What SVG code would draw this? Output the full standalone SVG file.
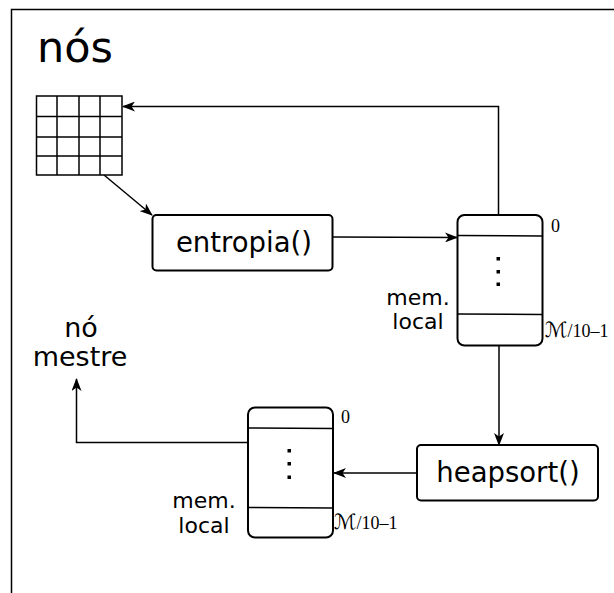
<svg xmlns="http://www.w3.org/2000/svg" width="614" height="593" viewBox="0 0 614 593">
  <style>
    .frame { fill: none; stroke: #000; stroke-width: 1.5; }
    .box { fill: #fff; stroke: #000; stroke-width: 2; }
    .cell { fill: #fff; stroke: #000; stroke-width: 1.5; }
    .div { stroke: #000; stroke-width: 1.5; }
    .wire { fill: none; stroke: #000; stroke-width: 1.5; }
    .sans { font-family: "DejaVu Sans", sans-serif; fill: #000; }
    .serif { font-family: "Liberation Serif", "DejaVu Serif", serif; fill: #000; }
    .cal { font-family: "DejaVu Serif", "DejaVu Sans", serif; font-style: italic; font-size: 21px; }
    .dot { fill: #000; }
  </style>
  <defs>
    <marker id="arrow" viewBox="0 0 13 10" refX="12" refY="5" markerWidth="13" markerHeight="10" markerUnits="userSpaceOnUse" orient="auto">
      <path d="M0,0 L13,5 L0,10 L3.5,5 z" fill="#000"/>
    </marker>
  </defs>

  <rect width="614" height="593" fill="#fff"/>

  <!-- outer frame of the node group -->
  <rect class="frame" x="11.5" y="9.5" width="800" height="800"/>
  <text class="sans" x="37" y="62" font-size="43">nós</text>

  <!-- connectors -->
  <g id="connectors">
    <line class="wire" x1="104" y1="175" x2="152" y2="215" marker-end="url(#arrow)"/>
    <line class="wire" x1="333" y1="237" x2="457" y2="237.5" marker-end="url(#arrow)"/>
    <polyline class="wire" points="498.5,215 498.5,106.5 123,106.5" marker-end="url(#arrow)"/>
    <line class="wire" x1="499" y1="346" x2="499" y2="445" marker-end="url(#arrow)"/>
    <line class="wire" x1="417" y1="473" x2="334" y2="473" marker-end="url(#arrow)"/>
    <polyline class="wire" points="248,442.5 76.5,442.5 76.5,379" marker-end="url(#arrow)"/>
  </g>

  <!-- 4x4 data grid -->
  <g id="grid">
    <rect class="cell" x="36.5" y="96" width="85.5" height="79"/>
    <line class="div" x1="57" y1="96" x2="57" y2="175"/>
    <line class="div" x1="79" y1="96" x2="79" y2="175"/>
    <line class="div" x1="100" y1="96" x2="100" y2="175"/>
    <line class="div" x1="36.5" y1="116.5" x2="122" y2="116.5"/>
    <line class="div" x1="36.5" y1="137" x2="122" y2="137"/>
    <line class="div" x1="36.5" y1="156" x2="122" y2="156"/>
  </g>

  <!-- entropy step -->
  <g id="entropia">
    <rect class="box" x="152.5" y="215" width="180" height="55.5" rx="4"/>
    <text class="sans" x="244" y="252" font-size="27.5" text-anchor="middle">entropia()</text>
  </g>

  <!-- local memory after entropy -->
  <g id="mem1">
    <rect class="box" x="457.5" y="215" width="85" height="130.5" rx="7"/>
    <line class="div" x1="457.5" y1="235.5" x2="542.5" y2="236"/>
    <line class="div" x1="457.5" y1="314" x2="542.5" y2="314.5"/>
    <rect class="dot" x="496.5" y="257" width="3.5" height="3.5"/>
    <rect class="dot" x="496.5" y="270" width="3.5" height="3.5"/>
    <rect class="dot" x="496.5" y="282.5" width="3.5" height="3.5"/>
    <text class="serif" x="551" y="232" font-size="18">0</text>
    <text class="serif" x="545" y="337" font-size="18"><tspan class="cal">ℳ</tspan>/10–1</text>
    <text class="sans" x="418" y="305" font-size="22" text-anchor="middle">mem.</text>
    <text class="sans" x="418" y="329" font-size="22" text-anchor="middle">local</text>
  </g>

  <!-- sort step -->
  <g id="heapsort">
    <rect class="box" x="417" y="445" width="181" height="55.5" rx="4"/>
    <text class="sans" x="508" y="482" font-size="27.5" text-anchor="middle">heapsort()</text>
  </g>

  <!-- local memory after sorting -->
  <g id="mem2">
    <rect class="box" x="248" y="407.5" width="85" height="130" rx="7"/>
    <line class="div" x1="248" y1="428" x2="333" y2="428.5"/>
    <line class="div" x1="248" y1="507.5" x2="333" y2="508"/>
    <rect class="dot" x="287.5" y="449" width="3.5" height="3.5"/>
    <rect class="dot" x="287.5" y="462" width="3.5" height="3.5"/>
    <rect class="dot" x="287.5" y="475.5" width="3.5" height="3.5"/>
    <text class="serif" x="341" y="423" font-size="18">0</text>
    <text class="serif" x="334" y="528.5" font-size="18"><tspan class="cal">ℳ</tspan>/10–1</text>
    <text class="sans" x="204" y="508" font-size="22" text-anchor="middle">mem.</text>
    <text class="sans" x="204" y="533" font-size="22" text-anchor="middle">local</text>
  </g>

  <!-- master node label -->
  <g id="mestre">
    <text class="sans" x="81" y="337" font-size="27" text-anchor="middle">nó</text>
    <text class="sans" x="80" y="366" font-size="27" text-anchor="middle">mestre</text>
  </g>
</svg>
